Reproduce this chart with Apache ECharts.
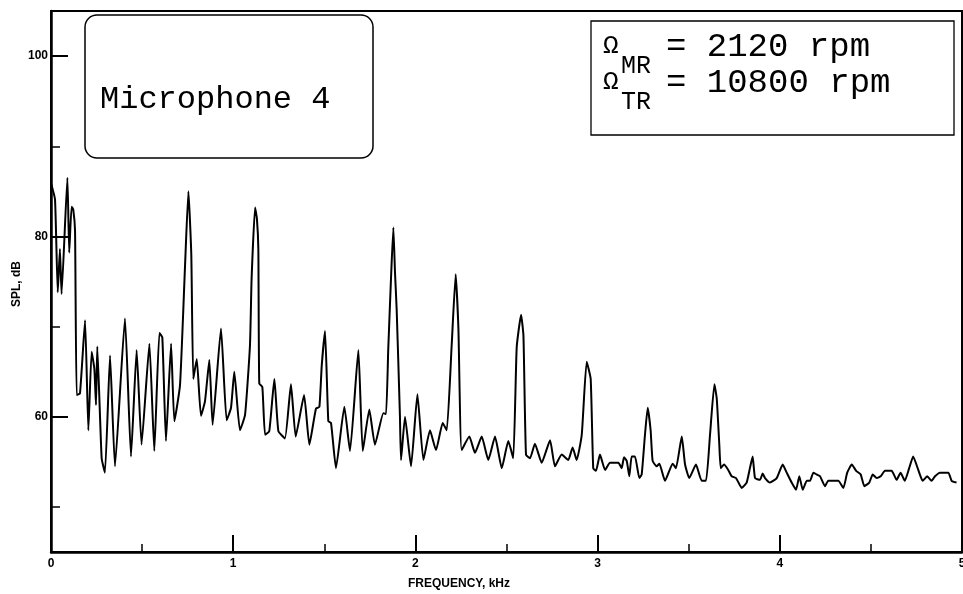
<!DOCTYPE html>
<html>
<head>
<meta charset="utf-8">
<script src="https://cdn.jsdelivr.net/npm/echarts@6/dist/echarts.min.js"></script>
<style>
html,body{margin:0;padding:0;background:#fff;}
#chart{width:963px;height:594px;}
</style>
</head>
<body>
<div id="chart"></div>
<script>
// Frequency (kHz) and SPL (dB)
const freq = [
0.000,0.022,0.037,0.049,0.058,0.090,0.100,0.113,0.122,0.132,0.141,0.159,0.187,0.205,0.223,0.238,0.247,0.254,0.278,0.296,
0.324,0.351,0.406,0.439,0.470,0.497,0.540,0.567,0.595,0.611,0.631,0.659,0.677,0.708,0.735,0.754,0.770,0.781,0.800,0.823,
0.845,0.869,0.887,0.933,0.964,0.988,1.006,1.037,1.065,1.092,1.101,1.120,1.130,1.138,1.143,1.160,1.175,1.198,1.226,1.248,
1.284,1.317,1.343,1.389,1.418,1.454,1.473,1.486,1.504,1.522,1.537,1.564,1.610,1.641,1.687,1.711,1.747,1.778,1.824,1.839,
1.851,1.866,1.879,1.888,1.897,1.915,1.921,1.943,1.976,2.011,2.044,2.080,2.113,2.150,2.172,2.199,2.221,2.236,2.254,2.296,
2.327,2.364,2.400,2.437,2.474,2.510,2.537,2.556,2.580,2.593,2.607,2.629,2.656,2.693,2.739,2.766,2.803,2.839,2.863,2.885,
2.913,2.940,2.962,2.976,2.991,3.013,3.041,3.068,3.114,3.132,3.145,3.160,3.174,3.187,3.205,3.229,3.242,3.260,3.275,3.291,
3.302,3.324,3.339,3.370,3.412,3.430,3.462,3.480,3.503,3.540,3.571,3.595,3.617,3.641,3.654,3.668,3.676,3.694,3.717,3.736,
3.760,3.791,3.818,3.836,3.851,3.864,3.891,3.906,3.919,3.946,3.983,4.016,4.038,4.065,4.089,4.107,4.126,4.148,4.166,4.184,
4.202,4.221,4.248,4.266,4.321,4.349,4.370,4.395,4.419,4.444,4.464,4.491,4.510,4.532,4.554,4.577,4.614,4.641,4.663,4.686,
4.710,4.732,4.760,4.784,4.809,4.833,4.852,4.879,4.925,4.943,4.970
];
const spl = [
85.9,84.1,73.8,78.6,73.6,86.5,78.2,83.3,83.0,80.6,62.4,62.6,70.7,58.5,67.2,65.3,61.3,67.8,55.4,53.8,
66.8,54.5,70.9,55.6,67.4,56.9,68.1,56.2,69.3,68.8,57.3,68.1,59.5,63.5,76.4,85.0,78.0,64.2,66.4,60.1,
61.7,66.3,59.1,69.8,59.6,61.0,65.0,58.5,60.2,67.9,75.3,83.2,82.0,78.6,63.7,63.3,58.0,58.4,64.2,58.4,
57.6,63.6,57.8,62.4,56.9,60.9,61.1,65.7,69.5,59.5,59.3,54.3,61.1,56.2,67.4,56.2,60.8,56.9,60.4,60.3,
67.5,75.3,81.0,76.0,72.0,60.2,55.2,60.0,54.5,62.5,55.2,58.5,56.3,59.3,58.5,67.9,75.8,69.8,56.3,57.8,
56.0,57.8,55.2,57.8,54.3,57.3,55.4,67.7,71.3,69.0,55.8,55.4,57.0,54.9,57.4,54.5,55.8,55.2,56.6,55.2,
58.0,66.1,64.2,54.3,54.0,55.8,54.1,54.9,54.9,54.3,55.5,55.1,53.4,55.6,55.6,53.2,53.6,58.0,61.0,58.5,
55.1,54.5,54.8,52.9,54.8,54.3,57.8,54.7,53.2,54.7,52.9,52.9,58.0,63.6,62.0,56.9,54.3,54.7,54.1,53.4,
53.2,52.1,52.7,54.3,55.6,53.2,53.0,53.7,53.2,52.7,53.2,54.7,53.8,52.7,51.9,53.4,51.9,52.9,52.9,53.8,
53.6,53.4,52.3,52.9,52.9,52.1,53.8,54.7,54.0,53.6,52.3,52.7,53.6,53.2,53.4,54.0,54.0,53.0,53.8,52.9,
54.3,55.6,54.1,52.9,53.4,52.9,53.4,53.8,53.8,52.9,52.7
];
const xMajorTicks = [0, 1, 2, 3, 4, 5];
const xMinorTicks = [0.5, 1.5, 2.5, 3.5, 4.5];
const yMajorTicks = [60, 80, 100];
const yMinorTicks = [50, 70, 90];

const chart = echarts.init(document.getElementById('chart'), null, {renderer: 'canvas'});
const labelFont = "'Liberation Sans Narrow','Liberation Sans',Arial,sans-serif";
const monoFont = "'Courier New','Liberation Mono',monospace";

const data = freq.map((f, i) => [f, spl[i]]);

chart.setOption({
  animation: false,
  backgroundColor: '#fff',
  grid: {left: 51, right: 1, top: 11, bottom: 42, outerBoundsMode: 'none', containLabel: false,
         show: true, borderColor: '#000', borderWidth: 2, backgroundColor: 'transparent'},
  xAxis: [
    {
      type: 'value', min: 0, max: 5, interval: 1,
      axisLine: {lineStyle: {color: '#000', width: 2.5}},
      axisTick: {inside: true, length: 17, lineStyle: {color: '#000', width: 2}, customValues: xMajorTicks},
      axisLabel: {color: '#000', fontSize: 12, fontWeight: 'bold', fontFamily: labelFont, margin: 6, customValues: xMajorTicks, hideOverlap: false},
      splitLine: {show: false}
    },
    {
      type: 'value', min: 0, max: 5, position: 'bottom',
      axisLine: {show: false},
      axisTick: {inside: true, length: 8, lineStyle: {color: '#000', width: 1.5}, customValues: xMinorTicks},
      axisLabel: {show: false},
      splitLine: {show: false}
    }
  ],
  yAxis: [
    {
      type: 'value', min: 45, max: 105,
      axisLine: {show: true, lineStyle: {color: '#000', width: 2.5}},
      axisTick: {show: true, inside: true, length: 17, lineStyle: {color: '#000', width: 2}, customValues: yMajorTicks},
      axisLabel: {color: '#000', fontSize: 12, fontWeight: 'bold', fontFamily: labelFont, margin: 3, customValues: yMajorTicks},
      splitLine: {show: false}
    },
    {
      type: 'value', min: 45, max: 105, position: 'left',
      axisLine: {show: false},
      axisTick: {show: true, inside: true, length: 9, lineStyle: {color: '#000', width: 1.5}, customValues: yMinorTicks},
      axisLabel: {show: false},
      splitLine: {show: false}
    }
  ],
  series: [{
    type: 'line',
    xAxisIndex: 0, yAxisIndex: 0,
    data: data,
    showSymbol: false,
    smooth: 0.15,
    lineStyle: {color: '#000', width: 2},
    z: 3
  }],
  graphic: [
    {type: 'rect', shape: {x: 85, y: 15, width: 288, height: 143, r: 12}, style: {fill: '#fff', stroke: '#000', lineWidth: 1.5}, z: 10},
    {type: 'text', x: 100, y: 100, style: {text: 'Microphone 4', font: '32px ' + monoFont, fill: '#000', textAlign: 'left', textVerticalAlign: 'middle'}, z: 11},
    {type: 'rect', shape: {x: 591, y: 21, width: 363, height: 114}, style: {fill: '#fff', stroke: '#000', lineWidth: 1.3}, z: 10},
    {type: 'text', x: 603, y: 46, style: {text: 'Ω', font: '26px ' + monoFont, fill: '#000', textAlign: 'left', textVerticalAlign: 'middle'}, z: 11},
    {type: 'text', x: 621, y: 66, style: {text: 'MR', font: '25px ' + monoFont, fill: '#000', textAlign: 'left', textVerticalAlign: 'middle'}, z: 11},
    {type: 'text', x: 666, y: 47, style: {text: '= 2120 rpm', font: '34px ' + monoFont, fill: '#000', textAlign: 'left', textVerticalAlign: 'middle'}, z: 11},
    {type: 'text', x: 603, y: 82, style: {text: 'Ω', font: '26px ' + monoFont, fill: '#000', textAlign: 'left', textVerticalAlign: 'middle'}, z: 11},
    {type: 'text', x: 621, y: 102, style: {text: 'TR', font: '25px ' + monoFont, fill: '#000', textAlign: 'left', textVerticalAlign: 'middle'}, z: 11},
    {type: 'text', x: 666, y: 83, style: {text: '= 10800 rpm', font: '34px ' + monoFont, fill: '#000', textAlign: 'left', textVerticalAlign: 'middle'}, z: 11},
    {type: 'text', x: 459, y: 584, style: {text: 'FREQUENCY, kHz', font: 'bold 12px ' + labelFont, fill: '#000', textAlign: 'center', textVerticalAlign: 'middle'}, z: 11},
    {type: 'text', x: 17, y: 284, rotation: Math.PI / 2, style: {text: 'SPL, dB', font: 'bold 12px ' + labelFont, fill: '#000', textAlign: 'center', textVerticalAlign: 'middle'}, z: 11}
  ]
});
</script>
</body>
</html>
